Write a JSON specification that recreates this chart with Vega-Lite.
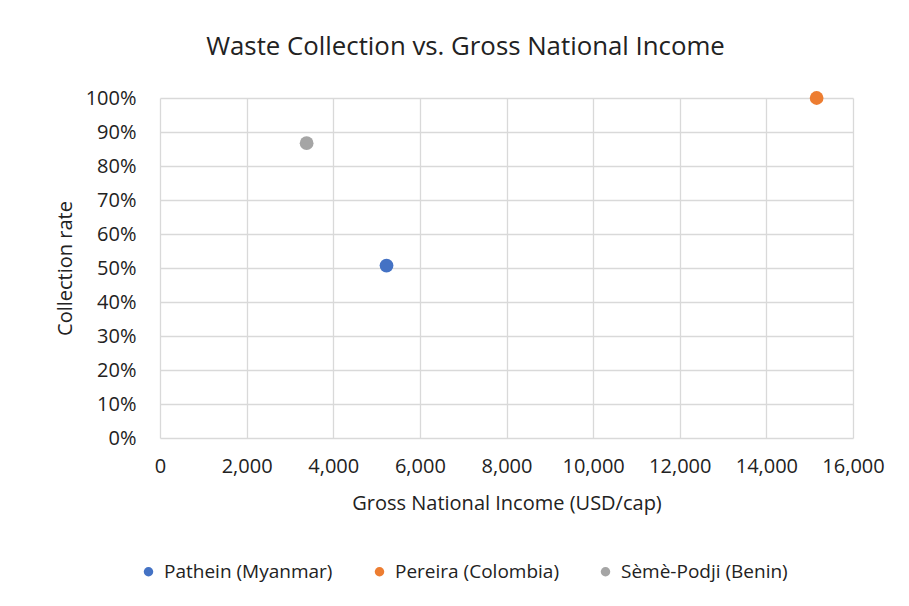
{
  "$schema": "https://vega.github.io/schema/vega-lite/v6.json",
  "autosize": {"type": "none"},
  "padding": {"left": 160, "top": 98, "right": 56, "bottom": 168},
  "width": 693,
  "height": 340,
  "background": "white",
  "title": {
    "text": "Waste Collection vs. Gross National Income",
    "font": "Open Sans",
    "fontSize": 25.8,
    "fontWeight": "normal",
    "color": "#222222",
    "anchor": "middle",
    "frame": "group",
    "dx": -41,
    "offset": 27
  },
  "data": {
    "values": [
      {"city": "Pathein (Myanmar)", "gni": 5230, "rate": 0.507},
      {"city": "Pereira (Colombia)", "gni": 15160, "rate": 1.0},
      {"city": "Sèmè-Podji (Benin)", "gni": 3385, "rate": 0.867}
    ]
  },
  "mark": {"type": "circle", "size": 190, "opacity": 1},
  "encoding": {
    "x": {
      "field": "gni",
      "type": "quantitative",
      "scale": {"domain": [0, 16000], "nice": false},
      "axis": {
        "title": "Gross National Income (USD/cap)",
        "values": [0, 2000, 4000, 6000, 8000, 10000, 12000, 14000, 16000],
        "format": ",.0f",
        "labelFlush": false,
        "labelOverlap": false,
        "labelPadding": 18,
        "titlePadding": 17
      }
    },
    "y": {
      "field": "rate",
      "type": "quantitative",
      "scale": {"domain": [0, 1], "nice": false},
      "axis": {
        "title": "Collection rate",
        "values": [0, 0.1, 0.2, 0.3, 0.4, 0.5, 0.6, 0.7, 0.8, 0.9, 1.0],
        "format": ".0%",
        "labelFlush": false,
        "labelOverlap": false,
        "labelPadding": 24,
        "titlePadding": 10
      }
    },
    "color": {
      "field": "city",
      "type": "nominal",
      "scale": {
        "domain": ["Pathein (Myanmar)", "Pereira (Colombia)", "Sèmè-Podji (Benin)"],
        "range": ["#4472C4", "#ED7D31", "#A5A5A5"]
      },
      "legend": {
        "title": null,
        "orient": "none",
        "direction": "horizontal",
        "legendX": -21,
        "legendY": 464,
        "symbolType": "circle",
        "symbolSize": 90,
        "symbolOpacity": 1,
        "columnPadding": 37,
        "labelFont": "Open Sans",
        "labelFontSize": 19,
        "labelColor": "#222222",
        "labelOffset": 6,
        "labelLimit": 300
      }
    }
  },
  "config": {
    "view": {"stroke": null},
    "axis": {
      "domain": false,
      "ticks": false,
      "grid": true,
      "gridColor": "#D9D9D9",
      "gridWidth": 1.3,
      "labelFont": "Open Sans",
      "labelFontSize": 20,
      "labelColor": "#222222",
      "titleFont": "Open Sans",
      "titleFontSize": 20,
      "titleFontWeight": "normal",
      "titleColor": "#222222"
    }
  }
}
